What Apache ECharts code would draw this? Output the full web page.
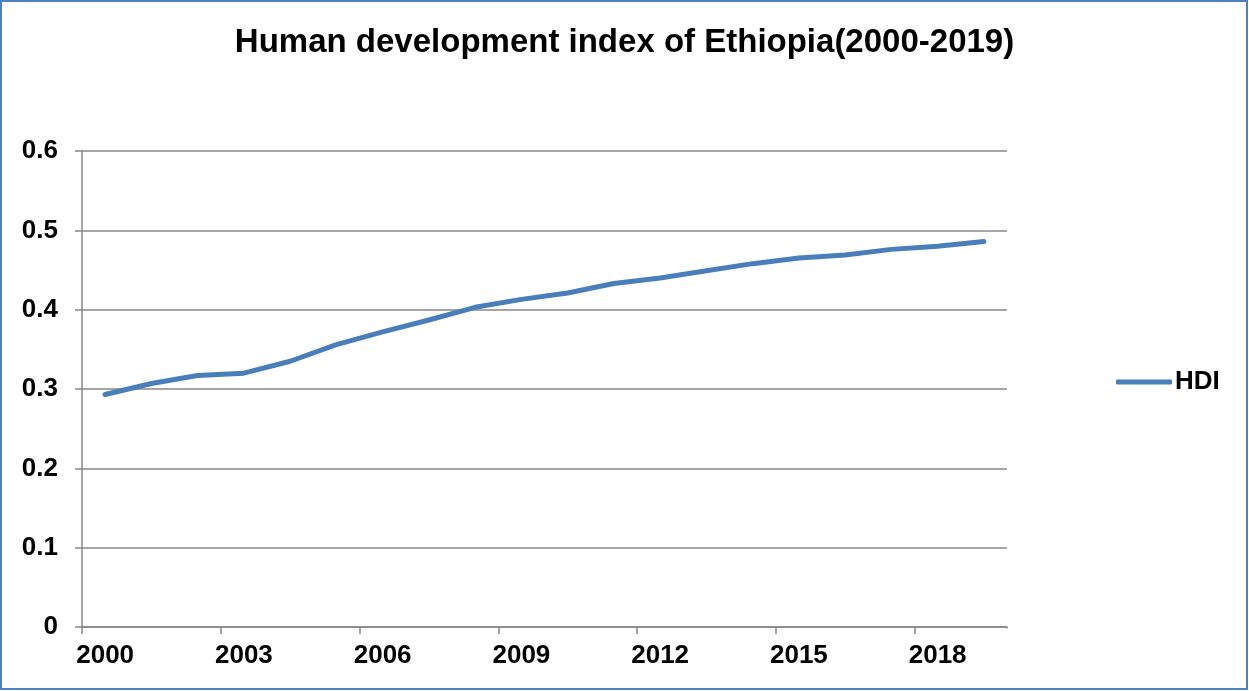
<!DOCTYPE html>
<html>
<head>
<meta charset="utf-8">
<script src="https://cdn.jsdelivr.net/npm/echarts@6/dist/echarts.min.js"></script>
<style>
html,body{margin:0;padding:0;background:#fff;}
#chart{width:1249px;height:691px;}
</style>
</head>
<body>
<div id="chart"></div>
<script>
const years = ['2000','2001','2002','2003','2004','2005','2006','2007','2008','2009','2010','2011','2012','2013','2014','2015','2016','2017','2018','2019'];
const hdi = [0.293,0.307,0.317,0.320,0.335,0.356,0.372,0.387,0.403,0.413,0.421,0.433,0.440,0.449,0.458,0.465,0.469,0.476,0.480,0.486];
const seriesName = 'HDI';
const titleText = 'Human development index of Ethiopia(2000-2019)';

const FONT = '"Liberation Sans", Arial, sans-serif';
const chart = echarts.init(document.getElementById('chart'), null, {renderer: 'canvas'});
chart.setOption({
  animation: false,
  backgroundColor: '#fff',
  title: {
    text: titleText,
    left: 'center',
    top: 21,
    textStyle: {fontFamily: FONT, fontWeight: 'bold', fontSize: 33, color: '#000'}
  },
  legend: {
    data: [seriesName],
    left: 1111,
    top: 364,
    icon: 'roundRect',
    itemWidth: 56,
    itemHeight: 5,
    itemGap: 5,
    textStyle: {fontFamily: FONT, fontWeight: 'bold', fontSize: 26, color: '#000', padding: [0,0,0,-2]}
  },
  grid: {left: 82, right: 242, top: 151, bottom: 64, containLabel: false},
  xAxis: {
    type: 'category',
    data: years,
    boundaryGap: true,
    axisLine: {lineStyle: {color: '#888', width: 1.5}},
    axisTick: {show: true, interval: 2, length: 7, lineStyle: {color: '#888', width: 1.5}},
    axisLabel: {interval: 2, margin: 16, fontFamily: FONT, fontWeight: 'bold', fontSize: 26, color: '#000'},
    splitLine: {show: false}
  },
  yAxis: {
    type: 'value',
    min: 0, max: 0.6, interval: 0.1,
    axisLine: {show: true, lineStyle: {color: '#888', width: 1.5}},
    axisTick: {show: true, length: 7, lineStyle: {color: '#888', width: 1.5}},
    axisLabel: {margin: 24, fontFamily: FONT, fontWeight: 'bold', fontSize: 26, color: '#000'},
    splitLine: {show: true, lineStyle: {color: '#888', width: 1.5}}
  },
  series: [{
    name: seriesName,
    type: 'line',
    data: hdi,
    symbol: 'none',
    lineStyle: {color: '#4A7EBB', width: 5, cap: 'round', join: 'round'},
    itemStyle: {color: '#4A7EBB'}
  }],
  graphic: [{
    type: 'rect',
    shape: {x: 1, y: 1, width: 1246, height: 688},
    style: {fill: 'none', stroke: '#4F81BD', lineWidth: 2},
    silent: true
  }, {
    type: 'rect',
    z: 100,
    shape: {x: 1003, y: 628.5, width: 8, height: 9},
    style: {fill: '#fff'},
    silent: true
  }]
});
</script>
</body>
</html>
